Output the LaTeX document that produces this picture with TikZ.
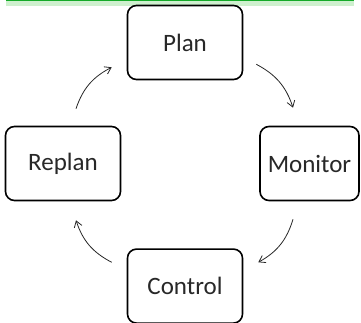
\documentclass[tikz,border=0pt]{standalone}
\usepackage{fontspec}
\setmainfont{Carlito}
\definecolor{bargreen}{RGB}{20,170,40}
\definecolor{barlight}{RGB}{206,240,206}
\definecolor{boxtext}{RGB}{40,40,40}
\usetikzlibrary{arrows.meta,positioning,calc}

\begin{document}
\begin{tikzpicture}[x=1pt,y=1pt,
      arr/.style={-{Straight Barb[length=6pt,width=8pt]}, line width=0.8pt, black!85, bend left=22},
      stage/.style={draw=black, line width=1.6pt, rounded corners=9pt, fill=white,
                    minimum width=115pt, minimum height=74pt, inner sep=0pt,
                    text=boxtext, font=\fontsize{25}{30}\selectfont}
    ]
    \useasboundingbox (0,0) rectangle (361,-323);
    % top band
    \fill[barlight] (6,0) rectangle (354,-6);
    \draw[bargreen, line width=1.5pt] (6,-0.75) -- (354,-0.75);
    % the four stages
    \node[stage] (plan) at (185,-42.5) {Plan};
    \node[stage, below=168pt of plan] (control) {Control};
    \node[stage] (replan) at (63,-163.5) {Replan};
    \node[stage, minimum width=99pt] (monitor) at (309.5,-163.5) {Monitor};
    % the cycle
    \draw[arr] ($(replan.north)+(13,17)$) to ($(plan.south west)+(-15,13)$);
    \draw[arr] ($(plan.south east)+(13,16)$) to ($(monitor.north)+(-16.5,18)$);
    \draw[arr] ($(monitor.south)+(-16.5,-18)$) to ($(control.north east)+(15,-14)$);
    \draw[arr] ($(control.north west)+(-15,-14)$) to ($(replan.south)+(13,-19)$);
  \end{tikzpicture}
\end{document}
